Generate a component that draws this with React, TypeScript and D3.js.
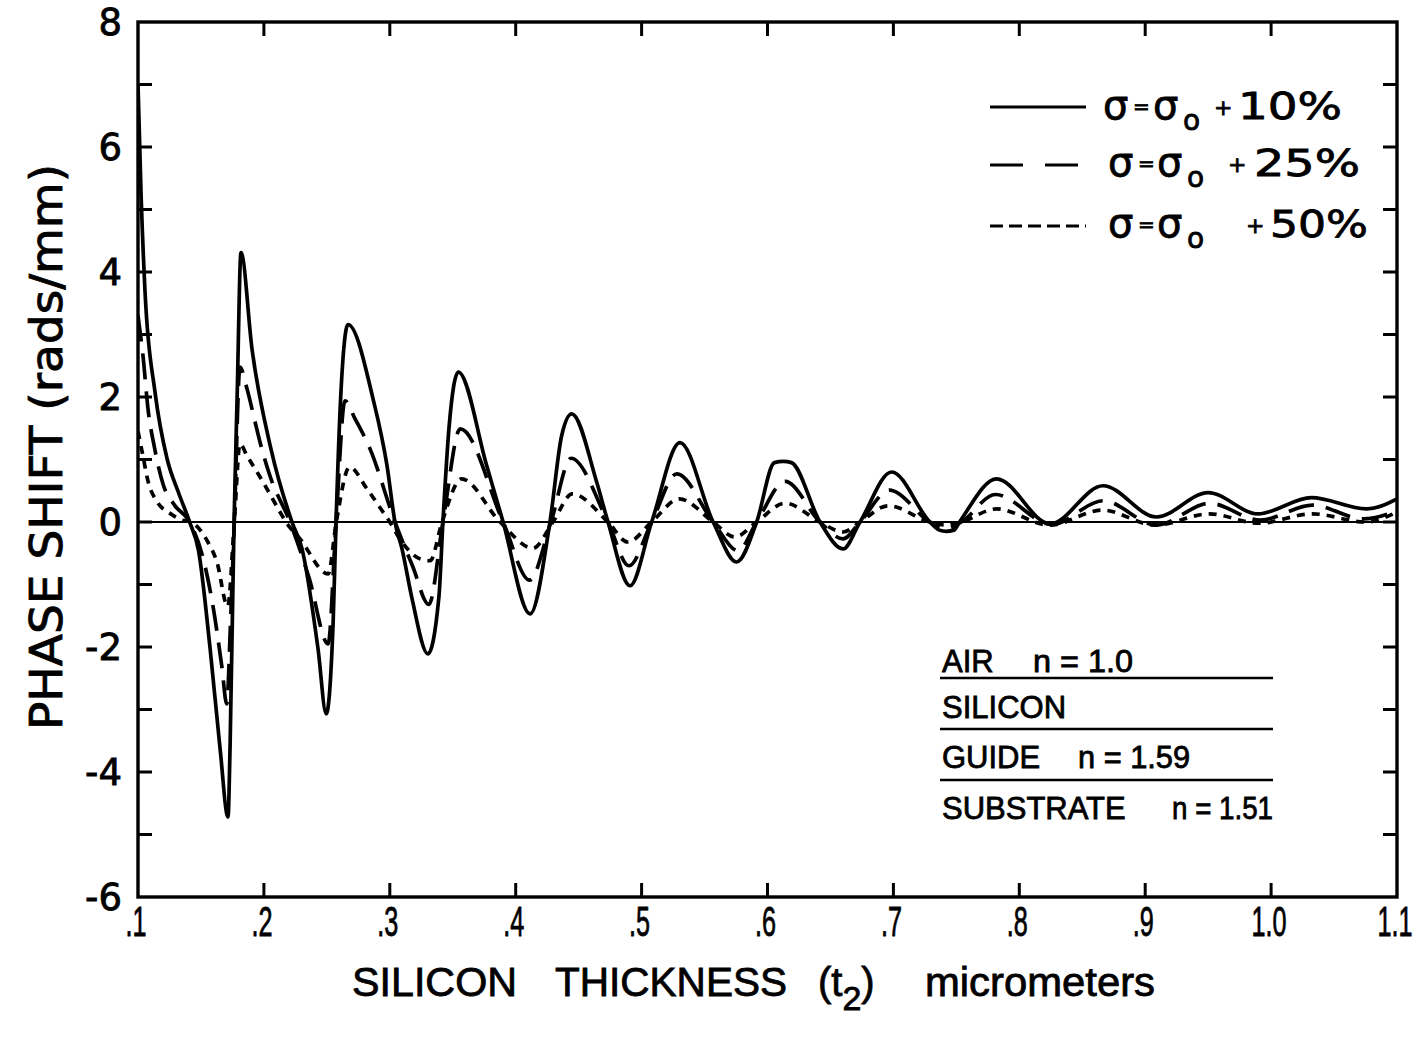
import React from "react";
import * as d3 from "d3";

// Phase shift (rads/mm) versus silicon thickness (micrometers)
const solid10: [number, number][] = [
  [0.1, 7.0], [0.1025, 5.2], [0.1056, 3.68], [0.1135, 2.08], [0.123, 1.02], [0.132, 0.48], [0.141, 0],
  [0.148, -0.45], [0.1573, -2.03], [0.1652, -3.63], [0.1715, -4.72], [0.1731, -3.63], [0.1763, 0],
  [0.1787, 1.97], [0.1818, 4.31], [0.1906, 2.76], [0.2056, 1.17], [0.2223, 0], [0.2303, -0.43],
  [0.243, -2.03], [0.2495, -3.07], [0.255, -1.6], [0.2573, 0], [0.261, 2.0], [0.2668, 3.16],
  [0.2867, 1.97], [0.2978, 0.9], [0.3041, 0], [0.3097, -0.43], [0.3177, -1.23], [0.3303, -2.11],
  [0.339, -1.2], [0.3422, 0], [0.347, 1.5], [0.3544, 2.4], [0.377, 0.9], [0.39, 0], [0.4114, -1.47],
  [0.4272, 0], [0.4365, 1.38], [0.4445, 1.73], [0.4643, 0.64], [0.4733, 0], [0.4908, -1.02], [0.508, 0],
  [0.5305, 1.27], [0.5568, 0], [0.5755, -0.64], [0.5914, 0], [0.6055, 0.95], [0.6125, 0.97], [0.619, 0.95],
  [0.6417, 0], [0.66, -0.43], [0.6735, 0], [0.6986, 0.8], [0.729, 0], [0.7365, -0.13], [0.742, -0.15],
  [0.748, -0.13], [0.7525, 0], [0.782, 0.69], [0.8244, -0.03], [0.8665, 0.58], [0.909, 0.08], [0.95, 0.47],
  [0.9896, 0.13], [1.032, 0.39], [1.076, 0.21], [1.1, 0.37],
];

const dashed25: [number, number][] = [
  [0.1, 3.3], [0.104, 2.65], [0.108, 1.8], [0.113, 1.2], [0.12, 0.6], [0.129, 0.27], [0.141, 0],
  [0.152, -0.6], [0.16, -1.4], [0.1665, -2.3], [0.1705, -2.91], [0.1735, -1.6], [0.1765, 0], [0.181, 2.48],
  [0.1866, 2.13], [0.193, 1.6], [0.1969, 1.28], [0.2048, 0.74], [0.2207, 0], [0.236, -0.9], [0.251, -1.95],
  [0.2573, 0], [0.2644, 1.94], [0.2724, 1.65], [0.2843, 1.17], [0.3041, 0], [0.318, -0.7], [0.331, -1.32],
  [0.3422, 0], [0.356, 1.49], [0.39, 0], [0.411, -0.93], [0.428, 0], [0.444, 1.02], [0.4733, 0],
  [0.49, -0.7], [0.508, 0], [0.528, 0.77], [0.5568, 0], [0.5766, -0.46], [0.5914, 0], [0.614, 0.65],
  [0.6417, 0], [0.66, -0.27], [0.6735, 0], [0.697, 0.51], [0.729, 0], [0.742, -0.11], [0.754, 0],
  [0.781, 0.44], [0.8257, -0.04], [0.8665, 0.34], [0.909, -0.05], [0.951, 0.3], [0.991, 0.03],
  [1.033, 0.27], [1.073, 0.05], [1.1, 0.18],
];

const dotted50: [number, number][] = [
  [0.1, 1.45], [0.104, 1.05], [0.108, 0.65], [0.115, 0.33], [0.126, 0.13], [0.135, 0.03], [0.142, 0],
  [0.1555, -0.32], [0.1627, -0.64], [0.1712, -1.35], [0.1765, 0], [0.181, 1.25], [0.1866, 1.06],
  [0.1993, 0.64], [0.2128, 0.16], [0.2175, 0], [0.2287, -0.27], [0.251, -0.83], [0.2575, 0],
  [0.268, 0.88], [0.2819, 0.53], [0.2946, 0.16], [0.3, 0], [0.308, -0.27], [0.324, -0.59], [0.332, -0.62],
  [0.3415, 0], [0.357, 0.69], [0.3876, 0], [0.4137, -0.42], [0.4296, 0], [0.445, 0.45], [0.4733, 0],
  [0.489, -0.32], [0.508, 0], [0.53, 0.37], [0.5568, 0], [0.574, -0.24], [0.5914, 0], [0.614, 0.3],
  [0.6417, 0], [0.66, -0.16], [0.6735, 0], [0.696, 0.26], [0.729, 0], [0.742, -0.05], [0.754, 0],
  [0.782, 0.21], [0.824, -0.05], [0.866, 0.19], [0.908, -0.05], [0.951, 0.13], [0.99, -0.02],
  [1.033, 0.13], [1.075, 0.0], [1.1, 0.16],
];

const xTickValues = [0.1, 0.2, 0.3, 0.4, 0.5, 0.6, 0.7, 0.8, 0.9, 1.0, 1.1];
const xTickLabels = [".1", ".2", ".3", ".4", ".5", ".6", ".7", ".8", ".9", "1.0", "1.1"];
const yLabelValues = [-6, -4, -2, 0, 2, 4, 6, 8];
const yLabelTexts = ["-6", "-4", "-2", "0", "2", "4", "6", "8"];
const yTickValues = [-5, -4, -3, -2, -1, 0, 1, 2, 3, 4, 5, 6, 7];
const legendPercents = ["10%", "25%", "50%"];
const layerNames = ["AIR", "SILICON", "GUIDE", "SUBSTRATE"];
const layerIndices = ["1.0", "", "1.59", "1.51"];

const FONT = "'DejaVu Sans', 'Liberation Sans', sans-serif";
const NARROW = "'Liberation Sans Narrow', 'Liberation Sans', sans-serif";

// slightly heavier glyphs, like the lettering of the original figure
const ink = { fill: "#000", stroke: "#000", strokeWidth: 0.8 };

export default function App() {
  const W = 1418;
  const H = 1039;
  const x = d3.scaleLinear().domain([0.1, 1.1]).range([138, 1397]);
  const y = d3.scaleLinear().domain([-6, 8]).range([897, 22]);
  const line = d3
    .line<[number, number]>()
    .x((d) => x(d[0]))
    .y((d) => y(d[1]))
    .curve(d3.curveMonotoneX);

  const series = [
    { data: solid10, dash: undefined as string | undefined },
    { data: dashed25, dash: "26 12" },
    { data: dotted50, dash: "8 7" },
  ];

  const legendRows = [
    { ly: 107, base: 119, dash: undefined as string | undefined, s1: 1103, eq: 1133, s2: 1153, sub: 1183, plus: 1214, pct: 1238, pctW: 104 },
    { ly: 165, base: 176, dash: "33 22", s1: 1108, eq: 1138, s2: 1157, sub: 1187, plus: 1228, pct: 1254, pctW: 106 },
    { ly: 226, base: 237, dash: "13 6", s1: 1108, eq: 1138, s2: 1157, sub: 1187, plus: 1246, pct: 1270, pctW: 98 },
  ];

  const layerLayout = [
    { base: 672, nx: 1033, nW: 100 },
    { base: 718, nx: 0, nW: 0 },
    { base: 768, nx: 1078, nW: 112 },
    { base: 819, nx: 1172, nW: 101 },
  ];
  const layerLines = [678, 729, 780];

  return (
    <svg width={W} height={H} style={{ position: "absolute", left: 0, top: 0, background: "#fff" }}>
      <defs>
        <clipPath id="plot-area">
          <rect x={138} y={22} width={1259} height={875} />
        </clipPath>
      </defs>

      {/* zero reference line */}
      <line x1={x(0.1)} x2={x(1.1)} y1={y(0)} y2={y(0)} stroke="#000" strokeWidth={1.8} />

      {/* frame */}
      <rect x={x(0.1)} y={y(8)} width={x(1.1) - x(0.1)} height={y(-6) - y(8)} fill="none" stroke="#000" strokeWidth={3.4} />

      {/* inward ticks */}
      {xTickValues.slice(1, -1).map((v) => (
        <g key={"xt" + v}>
          <line x1={x(v)} x2={x(v)} y1={y(8)} y2={y(8) + 14} stroke="#000" strokeWidth={3} />
          <line x1={x(v)} x2={x(v)} y1={y(-6)} y2={y(-6) - 14} stroke="#000" strokeWidth={3} />
        </g>
      ))}
      {yTickValues.map((v) => (
        <g key={"yt" + v}>
          <line x1={x(0.1)} x2={x(0.1) + 14} y1={y(v)} y2={y(v)} stroke="#000" strokeWidth={3} />
          <line x1={x(1.1)} x2={x(1.1) - 14} y1={y(v)} y2={y(v)} stroke="#000" strokeWidth={3} />
        </g>
      ))}

      {/* curves */}
      <g clipPath="url(#plot-area)">
        {series.map((s, i) => (
          <path
            key={i}
            d={line(s.data) || ""}
            fill="none"
            stroke="#000"
            strokeWidth={3.7}
            strokeDasharray={s.dash}
            strokeLinejoin="round"
          />
        ))}
      </g>

      {/* y tick labels */}
      {yLabelValues.map((v, i) => (
        <text key={"yl" + v} x={122} y={y(v) + 13} textAnchor="end" fontFamily={FONT} fontSize={37} {...ink}>
          {yLabelTexts[i]}
        </text>
      ))}

      {/* x tick labels, condensed horizontally */}
      {xTickValues.map((v, i) => {
        const last = i === xTickValues.length - 1;
        const cx = last ? x(v) - 2 : x(v) - 2;
        return (
          <text
            key={"xl" + v}
            transform={`translate(${cx},936) scale(0.6,1)`}
            textAnchor="middle"
            fontFamily={NARROW}
            fontSize={42}
            {...ink}
          >
            {xTickLabels[i]}
          </text>
        );
      })}

      {/* x axis title */}
      <text x={352} y={996} fontFamily={NARROW} fontSize={40} {...ink}>
        <tspan textLength={165} lengthAdjust="spacingAndGlyphs">SILICON</tspan>
        <tspan x={555} textLength={232} lengthAdjust="spacingAndGlyphs">THICKNESS</tspan>
        <tspan x={818}>(t</tspan>
        <tspan dy={14} fontSize={34}>2</tspan>
        <tspan dy={-14}>)</tspan>
        <tspan x={925} textLength={230} lengthAdjust="spacingAndGlyphs">micrometers</tspan>
      </text>

      {/* y axis title */}
      <text
        transform="translate(62,447) rotate(-90)"
        textAnchor="middle"
        fontFamily={FONT}
        fontSize={44}
        textLength={566}
        lengthAdjust="spacingAndGlyphs"
        {...ink}
      >
        PHASE   SHIFT   (rads/mm)
      </text>

      {/* legend */}
      {legendRows.map((r, i) => (
        <g key={"lg" + i}>
          <line x1={990} x2={1086} y1={r.ly} y2={r.ly} stroke="#000" strokeWidth={3.2} strokeDasharray={r.dash} />
          <text x={r.s1} y={r.base} fontFamily={FONT} fontSize={40} {...ink}>σ</text>
          <text x={r.eq} y={r.base - 6} fontFamily={FONT} fontSize={20} {...ink}>=</text>
          <text x={r.s2} y={r.base} fontFamily={FONT} fontSize={40} {...ink}>σ</text>
          <text x={r.sub} y={r.base + 11} fontFamily={FONT} fontSize={28} {...ink}>o</text>
          <text x={r.plus} y={r.base - 4} fontFamily={FONT} fontSize={22} {...ink}>+</text>
          <text x={r.pct} y={r.base} fontFamily={FONT} fontSize={37} textLength={r.pctW} lengthAdjust="spacingAndGlyphs" {...ink}>
            {legendPercents[i]}
          </text>
        </g>
      ))}

      {/* layer stack annotation */}
      {layerNames.map((name, i) => (
        <g key={"ly" + name}>
          <text x={942} y={layerLayout[i].base} fontFamily={NARROW} fontSize={31} {...ink}>
            {name}
          </text>
          {layerIndices[i] && (
            <text
              x={layerLayout[i].nx}
              y={layerLayout[i].base}
              fontFamily={NARROW}
              fontSize={31}
              textLength={layerLayout[i].nW}
              lengthAdjust="spacingAndGlyphs"
              {...ink}
            >
              {"n = " + layerIndices[i]}
            </text>
          )}
        </g>
      ))}
      {layerLines.map((ly) => (
        <line key={"ll" + ly} x1={940} x2={1273} y1={ly} y2={ly} stroke="#000" strokeWidth={2.6} />
      ))}
    </svg>
  );
}
